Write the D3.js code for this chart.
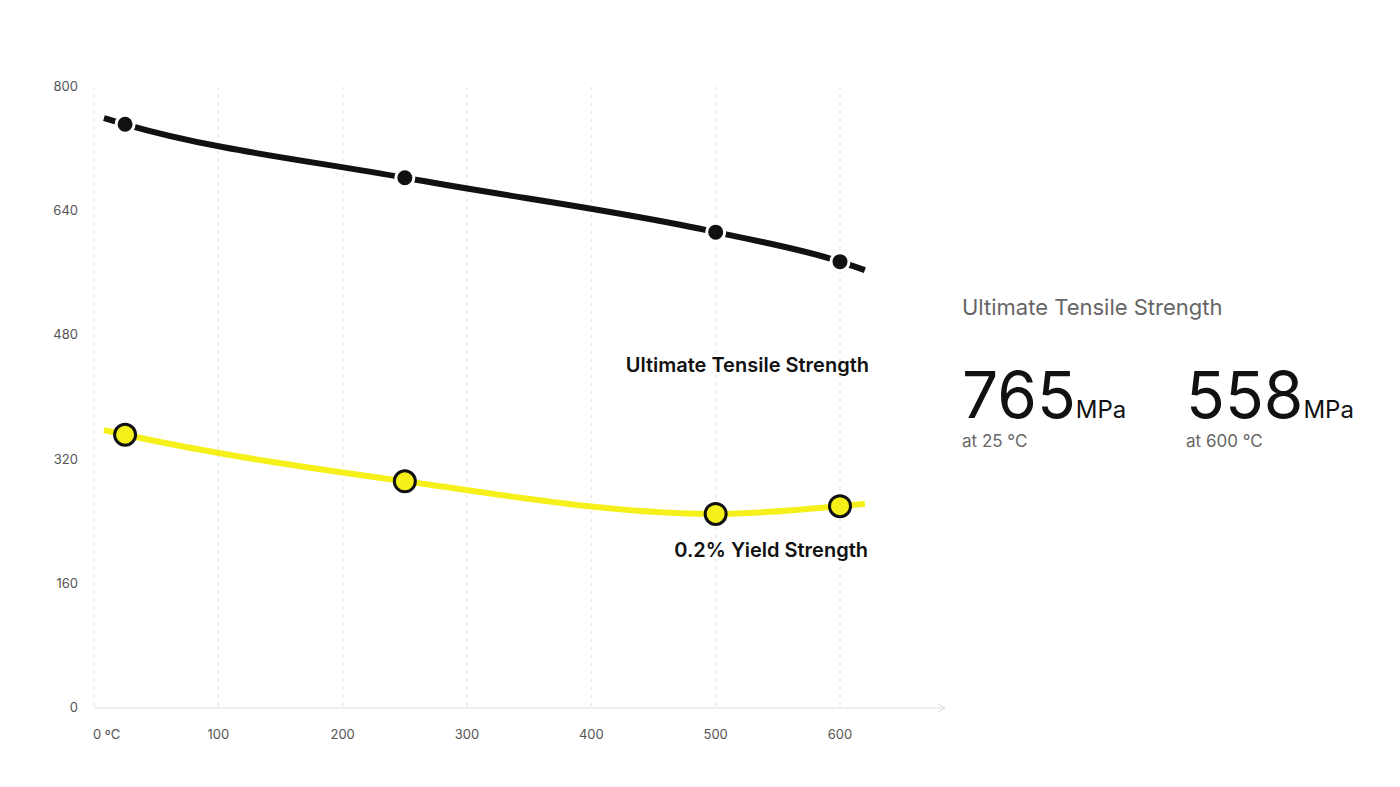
<!DOCTYPE html>
<html lang="en">
<head>
	<meta charset="UTF-8">
	<title>tensile</title>
	<style>body{margin:0;background:#fff;font-family:"Inter","Noto Sans",sans-serif;}</style>
</head>
<body>
<script src="https://cdn.jsdelivr.net/npm/d3@7"></script>
<script type="text/javascript">
	var temps = [25, 250, 500, 600];
	var utsVals = [752, 683, 613, 575];
	var ysVals = [352, 292, 250, 260];
	// line ends run a little past the markers
	var utsLine = [[8, 760], [25, 752], [250, 683], [500, 613], [600, 575], [620, 564]];
	var ysLine = [[8, 358], [25, 352], [250, 292], [500, 250], [600, 260], [620, 263]];
	var xTicks = [0, 100, 200, 300, 400, 500, 600];
	var yTicks = [0, 160, 320, 480, 640, 800];

	var svg = d3.select('body').append('svg').attr('width', 1400).attr('height', 787);
	var x = d3.scaleLinear().domain([0, 600]).range([94, 840]);
	var y = d3.scaleLinear().domain([0, 800]).range([708, 87]);

	svg.selectAll('.grid').data(xTicks).enter().append('line')
		.attr('x1', d => x(d)).attr('x2', d => x(d))
		.attr('y1', y(800)).attr('y2', y(0))
		.attr('stroke', '#ddd').attr('stroke-dasharray', '3,5');

	svg.append('line').attr('x1', 94).attr('x2', 944).attr('y1', y(0)).attr('y2', y(0))
		.attr('stroke', '#ddd');
	svg.append('path').attr('d', 'M938,704 L945,708 L938,712').attr('fill', 'none').attr('stroke', '#ddd');

	svg.selectAll('.yt').data(yTicks).enter().append('text')
		.attr('x', 78).attr('y', d => y(d) + 4).attr('text-anchor', 'end')
		.attr('font-size', 13).attr('fill', '#555').text(d => d);
	svg.selectAll('.xt').data(xTicks).enter().append('text')
		.attr('x', d => d === 0 ? x(d) - 1 : x(d)).attr('y', 739)
		.attr('text-anchor', d => d === 0 ? 'start' : 'middle')
		.attr('font-size', 13).attr('fill', '#555').text(d => d === 0 ? '0 ºC' : d);

	var line = d3.line().x(d => x(d[0])).y(d => y(d[1])).curve(d3.curveMonotoneX);
	svg.append('path').attr('d', line(utsLine)).attr('fill', 'none').attr('stroke', '#111').attr('stroke-width', 6);
	svg.append('path').attr('d', line(ysLine)).attr('fill', 'none').attr('stroke', '#f6f01a').attr('stroke-width', 6);

	svg.selectAll('.uc').data(temps).enter().append('circle')
		.attr('cx', d => x(d)).attr('cy', (d, i) => y(utsVals[i])).attr('r', 9)
		.attr('fill', '#111').attr('stroke', '#fff').attr('stroke-width', 3);
	svg.selectAll('.yc').data(temps).enter().append('circle')
		.attr('cx', d => x(d)).attr('cy', (d, i) => y(ysVals[i])).attr('r', 10.5)
		.attr('fill', '#f6f01a').attr('stroke', '#111').attr('stroke-width', 3);

	svg.append('text').attr('x', 869).attr('y', 372).attr('text-anchor', 'end')
		.attr('font-size', 20).attr('font-weight', 600).attr('fill', '#111').text('Ultimate Tensile Strength');
	svg.append('text').attr('x', 868).attr('y', 557).attr('text-anchor', 'end')
		.attr('font-size', 20).attr('font-weight', 600).attr('fill', '#111').text('0.2% Yield Strength');

	svg.append('text').attr('x', 962).attr('y', 315).attr('font-size', 22).attr('fill', '#666').text('Ultimate Tensile Strength');
	var stats = [['765', 'at 25 °C', 962], ['558', 'at 600 °C', 1186]];
	stats.forEach(function (s) {
		var t = svg.append('text').attr('x', s[2]).attr('y', 418).attr('fill', '#111');
		t.append('tspan').attr('font-size', 64).text(s[0]);
		t.append('tspan').attr('font-size', 24).text('MPa');
		svg.append('text').attr('x', s[2]).attr('y', 447).attr('font-size', 17).attr('fill', '#666').text(s[1]);
	});
</script>
</body>
</html>
